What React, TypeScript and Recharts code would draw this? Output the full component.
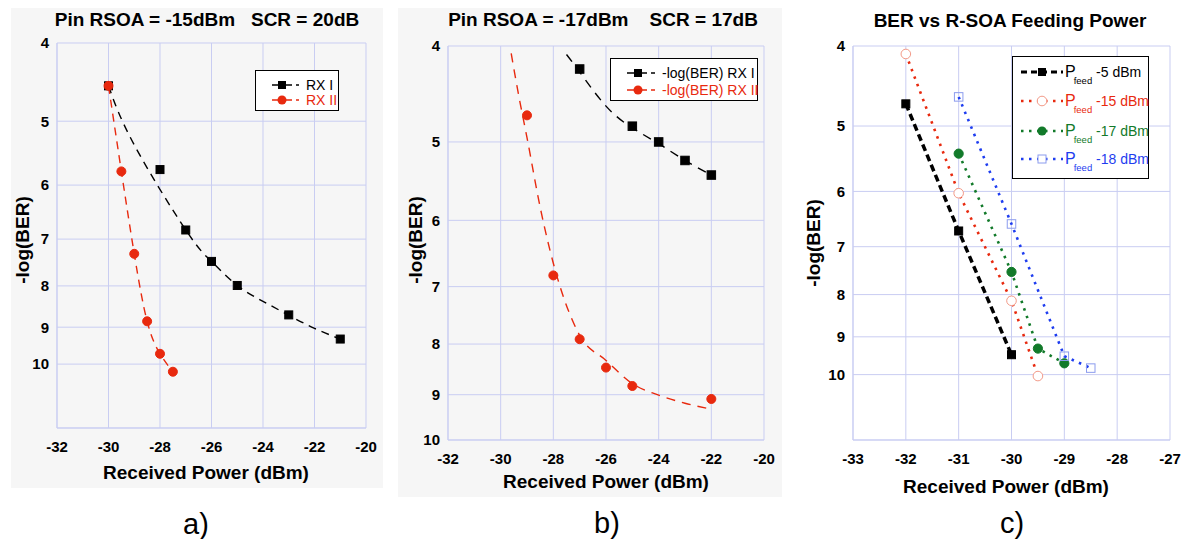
import React from "react"
import { CartesianGrid, ComposedChart, Line, XAxis, YAxis } from "recharts"

// a) Pin RSOA = -15dBm, SCR = 20dB
const aPowerRx1 = [-30, -28, -27, -26, -25, -23, -21]
const aBerRx1 = [4.52, 5.74, 6.82, 7.46, 7.99, 8.69, 9.31]
const aFitPowerRx1 = [-30, -29, -27, -26, -25, -24, -23, -22, -21]
const aFitRx1 = [4.52, 5.35, 6.82, 7.46, 7.99, 8.36, 8.7, 9.03, 9.31]
const aPowerRx2 = [-30, -29.5, -29, -28.5, -28, -27.5]
const aBerRx2 = [4.52, 5.77, 7.3, 8.85, 9.71, 10.22]

// b) Pin RSOA = -17dBm, SCR = 17dB
const bPowerRx1 = [-27, -25, -24, -23, -22]
const bBerRx1 = [4.22, 4.82, 5.0, 5.22, 5.4]
const bFitPowerRx1 = [-27.5, -27, -26, -25, -24, -23, -22]
const bFitRx1 = [4.08, 4.25, 4.6, 4.84, 5.02, 5.22, 5.4]
const bPowerRx2 = [-29, -28, -27, -26, -25, -22]
const bBerRx2 = [4.7, 6.82, 7.91, 8.45, 8.82, 9.09]
const bFitPowerRx2 = [-29.6, -29.3, -29, -28.5, -28, -27, -26, -25, -24, -23, -22]
const bFitRx2 = [4.07, 4.51, 4.95, 5.82, 6.63, 7.84, 8.31, 8.77, 9.01, 9.18, 9.31]

// c) BER vs R-SOA feeding power
const cPower5 = [-32, -31, -30]
const cBer5 = [4.7, 6.7, 9.46]
const cPower15 = [-32, -31, -30, -29.5]
const cBer15 = [4.09, 6.03, 8.14, 10.04]
const cPower17 = [-31, -30, -29.5, -29]
const cBer17 = [5.4, 7.51, 9.3, 9.69]
const cPower18 = [-31, -30, -29, -28.5]
const cBer18 = [4.61, 6.57, 9.5, 9.82]

const yTicks = [4, 5, 6, 7, 8, 9, 10]
const abTicks = [-32, -30, -28, -26, -24, -22, -20]
const cTicks = [-33, -32, -31, -30, -29, -28, -27]

const pts = (xs: number[], ys: number[]) => xs.map((x, i) => ({ x, y: ys[i] }))

const FONT = "'Liberation Sans', Arial, Helvetica, sans-serif"
const NARROW = "'Liberation Sans Narrow', 'Liberation Sans', Arial, sans-serif"
const GRID = "#c9cdf2"
const RED = "#e8290e"
const GREEN = "#127a2a"
const BLUE = "#1e3df0"

const square = (fill: string, stroke: string, size: number) => (p: any) => (
    <rect key={`s${p.index}`} x={p.cx - size / 2} y={p.cy - size / 2} width={size} height={size} fill={fill} stroke={stroke} strokeWidth={1} />
)
const circle = (fill: string, stroke: string, r: number) => (p: any) => (
    <circle key={`c${p.index}`} cx={p.cx} cy={p.cy} r={r} fill={fill} stroke={stroke} strokeWidth={1} />
)

function Panel({ x0, x1, y0, y1, xDomain, xTicks, yDomain, children }: any) {
    const yw = 50
    const tickStyle = { fill: "#000", fontSize: 15, fontWeight: 700, fontFamily: FONT }
    return (
        <div style={{ position: "absolute", left: x0 - yw, top: 0 }}>
            <ComposedChart width={x1 - x0 + yw + 18} height={y1 + 40} margin={{ top: y0, right: 18, bottom: 10, left: 0 }}>
                <CartesianGrid stroke={GRID} strokeWidth={1} />
                <XAxis type="number" dataKey="x" domain={xDomain} ticks={xTicks} interval={0} height={30}
                    axisLine={{ stroke: GRID }} tickLine={false} tickSize={0} tickMargin={13} tick={tickStyle} allowDataOverflow />
                <YAxis type="number" dataKey="y" scale="log" domain={yDomain} ticks={yTicks} interval={0} reversed width={yw}
                    axisLine={{ stroke: GRID }} tickLine={false} tickSize={0} tickMargin={8} tick={tickStyle} allowDataOverflow />
                {children}
            </ComposedChart>
        </div>
    )
}

function Text({ x, y, size, bold, rotate, children, color, family, spacing }: any) {
    return (
        <div style={{
            position: "absolute", left: x, top: y, whiteSpace: "pre", fontFamily: family || FONT, fontSize: size,
            fontWeight: bold ? 700 : 400, color: color || "#000", letterSpacing: spacing || 0, lineHeight: 1,
            transform: `translate(-50%, -50%)${rotate ? " rotate(-90deg)" : ""}`,
        }}>{children}</div>
    )
}

function Sample({ w, color, dash, width, marker }: any) {
    return (
        <svg width={w} height={14} style={{ display: "block" }}>
            <line x1={0} y1={7} x2={w} y2={7} stroke={color} strokeWidth={width} strokeDasharray={dash} />
            {marker}
        </svg>
    )
}

function LegendBox({ left, top, width, height, rows }: any) {
    return (
        <div style={{ position: "absolute", left, top, width, height, boxSizing: "border-box", border: "1px solid #000", background: "#fff" }}>
            {rows.map((r: any, i: number) => (
                <div key={i} style={{ position: "absolute", left: r.sx, top: r.y - 7 }}>
                    {r.sample}
                </div>
            ))}
            {rows.map((r: any, i: number) => (
                <div key={`t${i}`} style={{ position: "absolute", left: r.tx, top: r.y, transform: "translateY(-50%)", whiteSpace: "pre", color: r.color, fontFamily: r.family, fontSize: r.size, lineHeight: 1 }}>
                    {r.label}
                </div>
            ))}
        </div>
    )
}

function Pfeed({ value }: { value: string }) {
    return (
        <span style={{ position: "relative", display: "inline-block" }}>
            <span style={{ fontSize: 16 }}>P</span>
            <span style={{ fontSize: 9.5, position: "relative", top: 7, marginLeft: -2 }}>feed</span>
            <span style={{ fontSize: 14 }}>{" " + value}</span>
        </span>
    )
}

export default function App() {
    return (
        <div style={{ position: "absolute", left: 0, top: 0, width: 1188, height: 539, background: "#fff", overflow: "hidden" }}>
            <div style={{ position: "absolute", left: 11, top: 8, width: 372, height: 480, background: "#f6f6f6" }} />
            <div style={{ position: "absolute", left: 398, top: 8, width: 384, height: 489, background: "#f6f6f6" }} />

            <Panel x0={57} x1={366} y0={43} y1={428} xDomain={[-32, -20]} xTicks={abTicks} yDomain={[4, 12]}>
                <Line data={pts(aFitPowerRx1, aFitRx1)} dataKey="y" type="natural" stroke="#000" strokeWidth={1.4} strokeDasharray="8 6"
                    dot={false} isAnimationActive={false} />
                <Line data={pts(aPowerRx1, aBerRx1)} dataKey="y" stroke="none" dot={square("#000", "#000", 8)} isAnimationActive={false} />
                <Line data={pts(aPowerRx2, aBerRx2)} dataKey="y" type="natural" stroke={RED} strokeWidth={1.4} strokeDasharray="8 6"
                    dot={circle(RED, RED, 4.5)} isAnimationActive={false} />
            </Panel>

            <Panel x0={448} x1={764} y0={46} y1={440} xDomain={[-32, -20]} xTicks={abTicks} yDomain={[4, 10]}>
                <Line data={pts(bFitPowerRx1, bFitRx1)} dataKey="y" type="natural" stroke="#000" strokeWidth={1.4} strokeDasharray="9 7"
                    dot={false} isAnimationActive={false} />
                <Line data={pts(bFitPowerRx2, bFitRx2)} dataKey="y" type="monotone" stroke={RED} strokeWidth={1.4} strokeDasharray="9 7"
                    dot={false} isAnimationActive={false} />
                <Line data={pts(bPowerRx1, bBerRx1)} dataKey="y" stroke="none" dot={square("#000", "#000", 8.5)} isAnimationActive={false} />
                <Line data={pts(bPowerRx2, bBerRx2)} dataKey="y" stroke="none" dot={circle(RED, RED, 4.5)} isAnimationActive={false} />
            </Panel>

            <Panel x0={853} x1={1170} y0={46} y1={440} xDomain={[-33, -27]} xTicks={cTicks} yDomain={[4, 12]}>
                <Line data={pts(cPower5, cBer5)} dataKey="y" type="linear" stroke="#000" strokeWidth={3.5} strokeDasharray="7 4"
                    dot={square("#000", "#000", 8)} isAnimationActive={false} />
                <Line data={pts(cPower15, cBer15)} dataKey="y" type="linear" stroke={RED} strokeWidth={2.6} strokeDasharray="2.5 5.5"
                    dot={circle("#fff", "#f39a88", 4.8)} isAnimationActive={false} />
                <Line data={pts(cPower17, cBer17)} dataKey="y" type="linear" stroke={GREEN} strokeWidth={2.6} strokeDasharray="2.5 5.5"
                    dot={circle(GREEN, GREEN, 4.6)} isAnimationActive={false} />
                <Line data={pts(cPower18, cBer18)} dataKey="y" type="linear" stroke={BLUE} strokeWidth={2.6} strokeDasharray="2.5 5.5"
                    dot={square("none", "#8c9cee", 8.5)} isAnimationActive={false} />
            </Panel>

            <LegendBox left={255} top={70} width={84} height={41} rows={[
                { y: 14, sx: 16, tx: 50, color: "#000", size: 14, family: NARROW, label: "RX I",
                    sample: <Sample w={27} color="#000" width={1.3} dash="8 4" marker={<rect x={6} y={3} width={8} height={8} fill="#000" />} /> },
                { y: 29, sx: 16, tx: 50, color: RED, size: 14, family: NARROW, label: "RX II",
                    sample: <Sample w={27} color={RED} width={1.3} dash="8 4" marker={<circle cx={10} cy={7} r={4.5} fill={RED} />} /> },
            ]} />

            <LegendBox left={610} top={58} width={148} height={43} rows={[
                { y: 14, sx: 16, tx: 51, color: "#000", size: 14, family: NARROW, label: "-log(BER) RX I",
                    sample: <Sample w={28} color="#000" width={1.3} dash="8 4" marker={<rect x={7} y={3} width={8} height={8} fill="#000" />} /> },
                { y: 31, sx: 16, tx: 51, color: RED, size: 14, family: NARROW, label: "-log(BER) RX II",
                    sample: <Sample w={28} color={RED} width={1.3} dash="8 4" marker={<circle cx={11} cy={7} r={4.5} fill={RED} />} /> },
            ]} />

            <LegendBox left={1012} top={56} width={137} height={123} rows={[
                { y: 15, sx: 8, tx: 52, color: "#000", size: 14, family: FONT, label: <Pfeed value="-5 dBm" />,
                    sample: <Sample w={42} color="#000" width={3} dash="6 4" marker={<rect x={17} y={3} width={8} height={8} fill="#000" />} /> },
                { y: 44, sx: 8, tx: 52, color: RED, size: 14, family: FONT, label: <Pfeed value="-15 dBm" />,
                    sample: <Sample w={42} color={RED} width={2.6} dash="2.5 5.5" marker={<circle cx={21} cy={7} r={4.8} fill="#fff" stroke="#f39a88" />} /> },
                { y: 74, sx: 8, tx: 52, color: GREEN, size: 14, family: FONT, label: <Pfeed value="-17 dBm" />,
                    sample: <Sample w={42} color={GREEN} width={2.6} dash="2.5 5.5" marker={<circle cx={21} cy={7} r={4.6} fill={GREEN} />} /> },
                { y: 102, sx: 8, tx: 52, color: BLUE, size: 14, family: FONT, label: <Pfeed value="-18 dBm" />,
                    sample: <Sample w={42} color={BLUE} width={2.6} dash="2.5 5.5" marker={<rect x={17} y={3} width={8} height={8} fill="#fff" stroke="#8c9cee" />} /> },
            ]} />

            <Text x={207} y={19} size={19} bold>{"Pin RSOA = -15dBm   SCR = 20dB"}</Text>
            <Text x={603} y={19} size={19} bold>{"Pin RSOA = -17dBm    SCR = 17dB"}</Text>
            <Text x={1010} y={20} size={19} bold>BER vs R-SOA Feeding Power</Text>

            <Text x={22} y={240} size={19} bold rotate>-log(BER)</Text>
            <Text x={415} y={240} size={19} bold rotate>-log(BER)</Text>
            <Text x={813} y={243} size={19} bold rotate>-log(BER)</Text>

            <Text x={206} y={472} size={19} bold>Received Power (dBm)</Text>
            <Text x={606} y={481} size={19} bold>Received Power (dBm)</Text>
            <Text x={1006} y={486} size={19} bold>Received Power (dBm)</Text>

            <Text x={196} y={524} size={29}>a)</Text>
            <Text x={607} y={523} size={29}>b)</Text>
            <Text x={1012} y={523} size={29}>c)</Text>
        </div>
    )
}
